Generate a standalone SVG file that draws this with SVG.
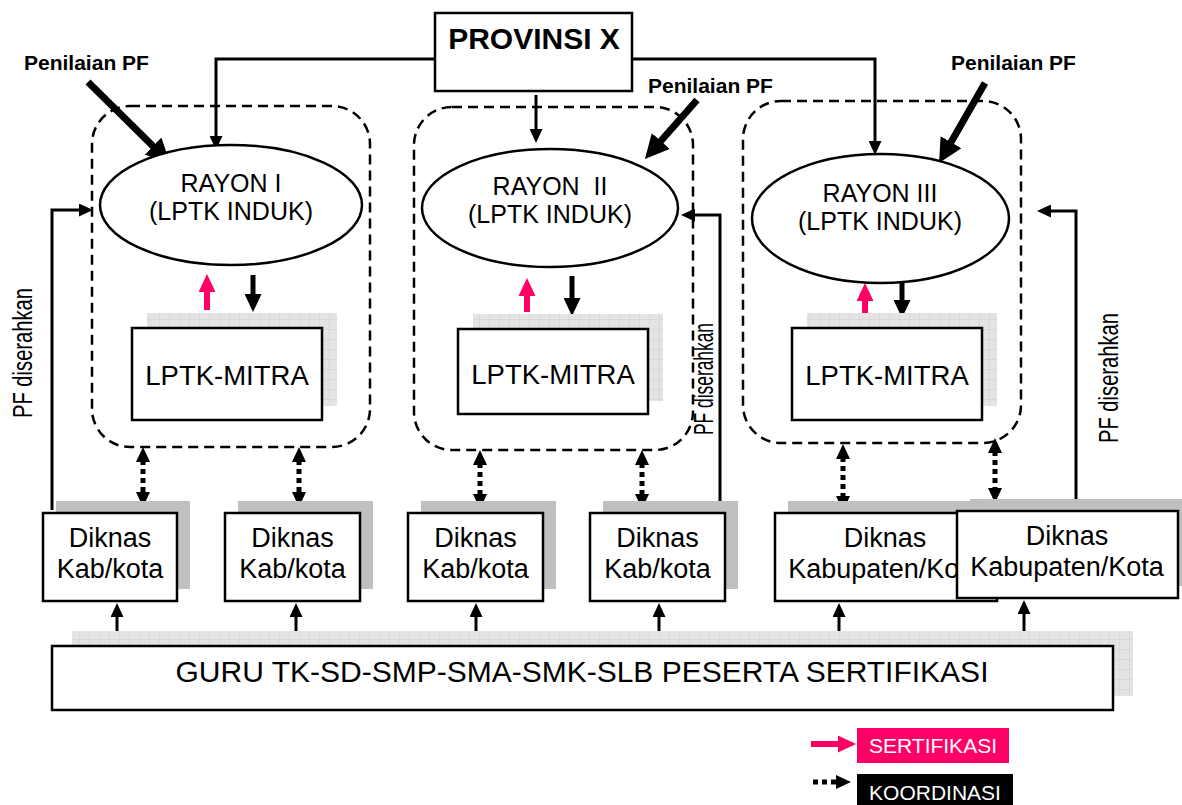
<svg xmlns="http://www.w3.org/2000/svg" width="1182" height="805" viewBox="0 0 1182 805">
<style>
  text { font-family: "Liberation Sans", Arial, sans-serif; fill: #000; }
  .box { fill: #fff; stroke: #000; stroke-width: 2.5; }
  .shadow { fill: #c0c0c0; }
  .gshadow { fill: url(#grid); }
  .cont { fill: none; stroke: #000; stroke-width: 2.5; stroke-dasharray: 10 6; }
  .ell { fill: #fff; stroke: #000; stroke-width: 2.5; }
  .ln { fill: none; stroke: #000; stroke-width: 3; }
  .thick { fill: none; stroke: #000; stroke-width: 7; }
  .pink { fill: none; stroke: #ff0066; stroke-width: 6; }
  .blk { fill: none; stroke: #000; stroke-width: 5; }
  .dot { fill: none; stroke: #000; stroke-width: 5; stroke-dasharray: 5 4; }
  .t27 { font-size: 27px; text-anchor: middle; }
  .t25 { font-size: 25px; text-anchor: middle; }
  .pen { font-size: 21px; font-weight: bold; }
  .pf { font-size: 27px; text-anchor: middle; }
  .leg { font-size: 21px; text-anchor: middle; fill: #fff; }
</style>
<defs>
  <pattern id="grid" width="10" height="10" patternUnits="userSpaceOnUse">
    <rect width="10" height="10" fill="#e4e4e4"/>
    <path d="M10,0 V10 H0" fill="none" stroke="#cfcfcf" stroke-width="1"/>
  </pattern>
  <marker id="a" viewBox="0 0 14 13" refX="2" refY="6.5" markerWidth="14" markerHeight="13" markerUnits="userSpaceOnUse" orient="auto">
    <path d="M0,0 L14,6.5 L0,13 z" fill="#000"/>
  </marker>
  <marker id="big" viewBox="0 0 24 24" refX="2" refY="12" markerWidth="24" markerHeight="24" markerUnits="userSpaceOnUse" orient="auto">
    <path d="M0,0 L24,12 L0,24 z" fill="#000"/>
  </marker>
  <marker id="p" viewBox="0 0 18 17" refX="2" refY="8.5" markerWidth="18" markerHeight="17" markerUnits="userSpaceOnUse" orient="auto">
    <path d="M0,0 L18,8.5 L0,17 z" fill="#ff0066"/>
  </marker>
  <marker id="b" viewBox="0 0 18 17" refX="2" refY="8.5" markerWidth="18" markerHeight="17" markerUnits="userSpaceOnUse" orient="auto">
    <path d="M0,0 L18,8.5 L0,17 z" fill="#000"/>
  </marker>
  <marker id="d" viewBox="0 0 15 14" refX="2" refY="7" markerWidth="15" markerHeight="14" markerUnits="userSpaceOnUse" orient="auto-start-reverse">
    <path d="M0,0 L15,7 L0,14 z" fill="#000"/>
  </marker>
</defs>
<rect width="1182" height="805" fill="#fff"/>

<!-- containers -->
<g id="rayon1-container"><rect class="cont" x="92" y="106" width="278" height="341" rx="38"/></g>
<g id="rayon2-container"><rect class="cont" x="414" y="107" width="279" height="343" rx="38"/></g>
<g id="rayon3-container"><rect class="cont" x="743" y="101" width="278" height="342" rx="38"/></g>

<!-- connectors -->
<g id="connectors">
  <path class="ln" d="M435,59 H216 V138" marker-end="url(#a)"/>
  <path class="ln" d="M632,59 H875 V143" marker-end="url(#a)"/>
  <path class="ln" d="M536,95 V131" marker-end="url(#a)"/>
  <path class="thick" d="M88,82 L154.4,147.5" marker-end="url(#big)"/>
  <path class="thick" d="M697,100 L659.5,142.5" marker-end="url(#big)"/>
  <path class="thick" d="M985,83 L950,143.9" marker-end="url(#big)"/>
  <path class="ln" d="M52,510 V210 H81" marker-end="url(#a)"/>
  <path class="ln" d="M720,513 V215 H693" marker-end="url(#a)"/>
  <path class="ln" d="M1076,507 V211 H1049" marker-end="url(#a)"/>
  <path class="pink" d="M207,310 V290" marker-end="url(#p)"/>
  <path class="blk" d="M253,275 V296" marker-end="url(#b)"/>
  <path class="pink" d="M527,312 V294" marker-end="url(#p)"/>
  <path class="blk" d="M572,276 V300" marker-end="url(#b)"/>
  <path class="pink" d="M865,319 V299" marker-end="url(#p)"/>
  <path class="blk" d="M902,283 V302" marker-end="url(#b)"/>
  <path class="dot" d="M143,460 V494" marker-start="url(#d)" marker-end="url(#d)"/>
  <path class="dot" d="M299,460 V494" marker-start="url(#d)" marker-end="url(#d)"/>
  <path class="dot" d="M480,463 V496" marker-start="url(#d)" marker-end="url(#d)"/>
  <path class="dot" d="M642,463 V496" marker-start="url(#d)" marker-end="url(#d)"/>
  <path class="dot" d="M843,457 V498" marker-start="url(#d)" marker-end="url(#d)"/>
  <path class="dot" d="M995,451 V490" marker-start="url(#d)" marker-end="url(#d)"/>
  <path class="ln" d="M117,646 V615" marker-end="url(#a)"/>
  <path class="ln" d="M296,646 V615" marker-end="url(#a)"/>
  <path class="ln" d="M476,646 V615" marker-end="url(#a)"/>
  <path class="ln" d="M659,646 V615" marker-end="url(#a)"/>
  <path class="ln" d="M839,646 V615" marker-end="url(#a)"/>
  <path class="ln" d="M1024,646 V612" marker-end="url(#a)"/>
</g>

<g id="provinsi">
  <rect class="box" x="435" y="13" width="197" height="78"/>
  <text x="534" y="49" font-size="30" font-weight="bold" text-anchor="middle">PROVINSI X</text>
</g>

<g id="penilaian1"><text class="pen" x="24" y="70">Penilaian PF</text></g>
<g id="penilaian2"><text class="pen" x="648" y="93">Penilaian PF</text></g>
<g id="penilaian3"><text class="pen" x="951" y="70">Penilaian PF</text></g>

<g id="rayon1">
  <ellipse class="ell" cx="231" cy="205" rx="131" ry="60"/>
  <text class="t25" x="231" y="192">RAYON I</text>
  <text class="t25" x="231" y="220">(LPTK INDUK)</text>
</g>
<g id="rayon2">
  <ellipse class="ell" cx="550" cy="208" rx="128" ry="59"/>
  <text class="t25" x="550" y="195" xml:space="preserve">RAYON  II</text>
  <text class="t25" x="550" y="223">(LPTK INDUK)</text>
</g>
<g id="rayon3">
  <ellipse class="ell" cx="880.5" cy="218.5" rx="128.5" ry="64.5"/>
  <text class="t25" x="880" y="202">RAYON III</text>
  <text class="t25" x="880" y="230">(LPTK INDUK)</text>
</g>

<g id="mitra1">
  <rect class="gshadow" x="147" y="313" width="190" height="93"/>
  <rect class="box" x="132" y="328" width="190" height="92"/>
  <text x="227" y="385" font-size="27.5" text-anchor="middle">LPTK-MITRA</text>
</g>
<g id="mitra2">
  <rect class="gshadow" x="473" y="314" width="190" height="87"/>
  <rect class="box" x="458" y="329" width="190" height="85"/>
  <text x="553" y="384" font-size="27.5" text-anchor="middle">LPTK-MITRA</text>
</g>
<g id="mitra3">
  <rect class="gshadow" x="807" y="313" width="190" height="93"/>
  <rect class="box" x="792" y="328" width="190" height="92"/>
  <text x="887" y="385" font-size="27.5" text-anchor="middle">LPTK-MITRA</text>
</g>

<g id="pf-left"><text class="pf" transform="translate(32,353) rotate(-90)" textLength="130" lengthAdjust="spacingAndGlyphs">PF diserahkan</text></g>
<g id="pf-mid"><text class="pf" transform="translate(713,379) rotate(-90)" textLength="112" lengthAdjust="spacingAndGlyphs">PF diserahkan</text></g>
<g id="pf-right"><text class="pf" transform="translate(1118,378) rotate(-90)" textLength="130" lengthAdjust="spacingAndGlyphs">PF diserahkan</text></g>

<g id="diknas1">
  <rect class="shadow" x="56" y="501" width="134" height="88"/>
  <rect class="box" x="43" y="513" width="134" height="88"/>
  <text class="t27" x="110" y="547">Diknas</text>
  <text class="t27" x="110" y="578">Kab/kota</text>
</g>
<g id="diknas2">
  <rect class="shadow" x="238" y="501" width="135" height="88"/>
  <rect class="box" x="225" y="513" width="135" height="88"/>
  <text class="t27" x="292.5" y="547">Diknas</text>
  <text class="t27" x="292.5" y="578">Kab/kota</text>
</g>
<g id="diknas3">
  <rect class="shadow" x="421" y="501" width="135" height="88"/>
  <rect class="box" x="408" y="513" width="135" height="88"/>
  <text class="t27" x="475.5" y="547">Diknas</text>
  <text class="t27" x="475.5" y="578">Kab/kota</text>
</g>
<g id="diknas4">
  <rect class="shadow" x="603" y="501" width="135" height="88"/>
  <rect class="box" x="590" y="513" width="135" height="88"/>
  <text class="t27" x="657.5" y="547">Diknas</text>
  <text class="t27" x="657.5" y="578">Kab/kota</text>
</g>
<g id="diknas5">
  <rect class="shadow" x="788" y="501" width="220" height="88"/>
  <rect class="box" x="775" y="513" width="222" height="88"/>
  <text class="t27" x="885" y="547">Diknas</text>
  <text class="t27" x="885" y="578">Kabupaten/Kota</text>
</g>
<g id="diknas6">
  <rect class="shadow" x="970" y="499" width="212" height="87"/>
  <rect class="box" x="957" y="511" width="221" height="87"/>
  <text class="t27" x="1067" y="545">Diknas</text>
  <text class="t27" x="1067" y="576">Kabupaten/Kota</text>
</g>

<g id="guru">
  <rect class="gshadow" x="72" y="631" width="1061" height="65"/>
  <rect class="box" x="52" y="646" width="1061" height="64"/>
  <text x="582" y="682" font-size="30" text-anchor="middle">GURU TK-SD-SMP-SMA-SMK-SLB PESERTA SERTIFIKASI</text>
</g>

<g id="legend">
  <path class="pink" d="M811,744 H840" marker-end="url(#p)"/>
  <rect x="857" y="728" width="152" height="35" fill="#ff0066"/>
  <text class="leg" x="933" y="753">SERTIFIKASI</text>
  <path class="dot" d="M813,782 H838" marker-end="url(#d)"/>
  <rect x="857" y="774" width="156" height="31" fill="#000"/>
  <text class="leg" x="935" y="800">KOORDINASI</text>
</g>
</svg>
